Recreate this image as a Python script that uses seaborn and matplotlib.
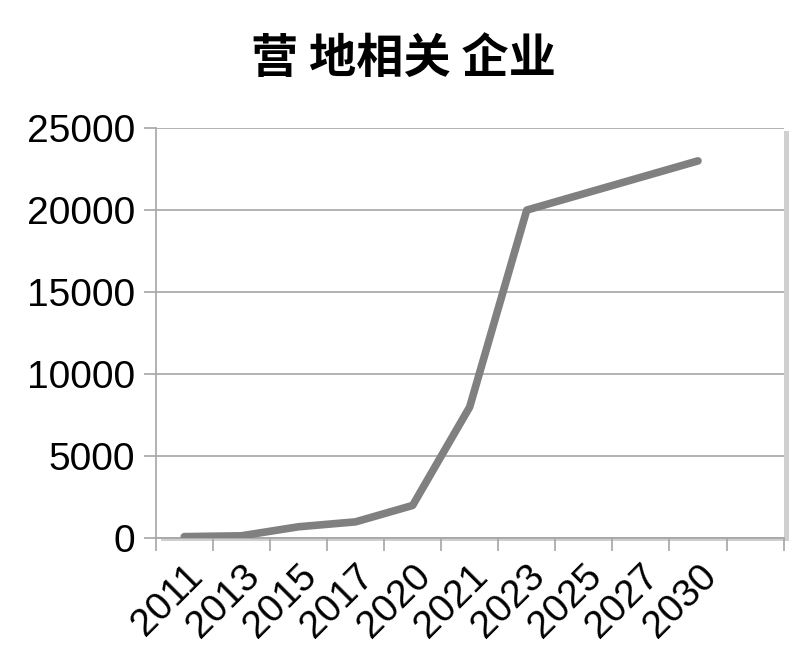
import numpy as np
import pandas as pd
import matplotlib
matplotlib.use("Agg")
import matplotlib.pyplot as plt
import matplotlib.patheffects as pe
import seaborn as sns

# data
years = ['2011', '2013', '2015', '2017', '2020', '2021', '2023', '2025', '2027', '2030']
companies = [100, 150, 700, 1000, 2000, 8000, 20000, 21000, 22000, 23000]
n_slots = 11  # the category axis has one empty slot after 2030

title_text = '营 地相关 企业'
y_ticks = [0, 5000, 10000, 15000, 20000, 25000]

df = pd.DataFrame({'year': years, 'companies': companies})

sns.set_theme(style='white')
plt.rcParams['font.family'] = ['Liberation Sans', 'Noto Sans CJK SC', 'DejaVu Sans']
plt.rcParams['text.color'] = 'black'
plt.rcParams['xtick.labelcolor'] = 'black'
plt.rcParams['ytick.labelcolor'] = 'black'

fig = plt.figure(figsize=(8.07, 6.67), dpi=100)
ax = fig.add_axes([0.193, 0.193, 0.778, 0.615])

# plot area with a soft drop shadow like the original
ax.patch.set_facecolor('white')
ax.patch.set_path_effects([
    pe.SimplePatchShadow(offset=(4, -2), shadow_rgbFace='#a0a0a0', alpha=0.5),
    pe.Normal(),
])

sns.lineplot(data=df, x='year', y='companies', ax=ax, color='#808080',
             linewidth=5.5, solid_capstyle='round', solid_joinstyle='round',
             sort=False, zorder=3)

ax.set_xlim(-0.5, n_slots - 0.5)
ax.set_ylim(0, 25000)
ax.set_yticks(y_ticks)
ax.set_yticklabels([str(v) for v in y_ticks], fontsize=28)
ax.yaxis.grid(True, color='#a6a6a6', linewidth=1.2)
ax.set_axisbelow(True)

# category labels in the middle of each slot, tick marks on the slot edges
ax.set_xticks(range(len(years)))
ax.set_xticklabels(years, fontsize=28, rotation=45, ha='right',
                   rotation_mode='anchor')
ax.set_xticks(np.arange(-0.5, n_slots), minor=True)
ax.tick_params(axis='x', which='major', length=0, pad=14)
ax.tick_params(axis='x', which='minor', length=9, width=1.2, color='#a6a6a6',
               direction='out', bottom=True)
ax.tick_params(axis='y', which='major', length=9, width=1.2, color='#a6a6a6',
               direction='out', left=True, pad=6)

ax.set_xlabel('')
ax.set_ylabel('')

for side in ['top', 'right']:
    ax.spines[side].set_visible(False)
for side in ['left', 'bottom']:
    ax.spines[side].set_color('#a6a6a6')
    ax.spines[side].set_linewidth(1.2)

fig.text(0.5, 0.912, title_text, ha='center', va='center', fontsize=34,
         fontweight='heavy', family=['Noto Sans CJK SC', 'DejaVu Sans'])

fig.savefig('out.png', dpi=100)
